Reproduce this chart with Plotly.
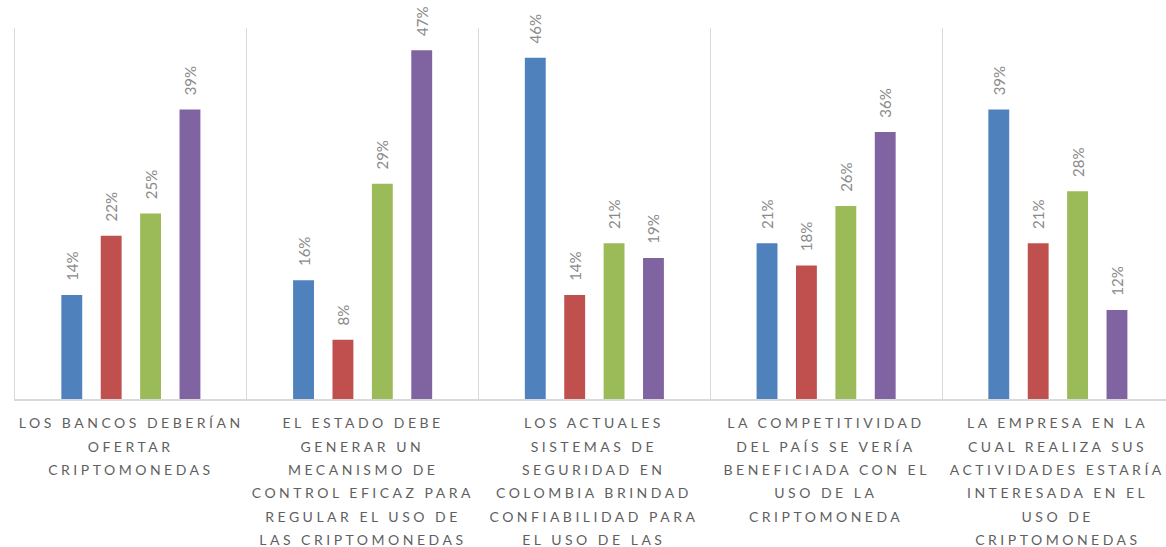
import plotly.graph_objects as go

# Statements (x categories); <br> marks the line breaks of each label
categories = [
    "LOS BANCOS DEBERÍAN<br>OFERTAR<br>CRIPTOMONEDAS",
    "EL ESTADO DEBE<br>GENERAR UN<br>MECANISMO DE<br>CONTROL EFICAZ PARA<br>REGULAR EL USO DE<br>LAS CRIPTOMONEDAS",
    "LOS ACTUALES<br>SISTEMAS DE<br>SEGURIDAD EN<br>COLOMBIA BRINDAD<br>CONFIABILIDAD PARA<br>EL USO DE LAS",
    "LA COMPETITIVIDAD<br>DEL PAÍS SE VERÍA<br>BENEFICIADA CON EL<br>USO DE LA<br>CRIPTOMONEDA",
    "LA EMPRESA EN LA<br>CUAL REALIZA SUS<br>ACTIVIDADES ESTARÍA<br>INTERESADA EN EL<br>USO DE<br>CRIPTOMONEDAS",
]

# Percentages per series
series_names = ["Serie 1", "Serie 2", "Serie 3", "Serie 4"]
series_1 = [14, 16, 46, 21, 39]
series_2 = [22, 8, 14, 18, 21]
series_3 = [25, 29, 21, 26, 28]
series_4 = [39, 47, 19, 36, 12]
series_values = [series_1, series_2, series_3, series_4]
series_colors = ["#4F81BD", "#C0504D", "#9BBB59", "#8064A2"]

FONT = "Lato, 'Open Sans', sans-serif"
W, H = 1166, 547
M_L, M_R, M_T, M_B = 15, 0, 28, 148
CAT_PX = 231.75  # width of one category band in pixels

fig = go.Figure()
for name, vals, color in zip(series_names, series_values, series_colors):
    fig.add_trace(go.Bar(
        name=name,
        x=categories,
        y=vals,
        marker=dict(color=color, line=dict(width=0)),
        texttemplate="\u2003%{y}%",
        textposition="outside",
        textangle=-90,
        textfont=dict(family=FONT, size=15, color="#8a8a8a"),
        cliponaxis=False,
        constraintext="none",
        hoverinfo="skip",
    ))

# Multi-line category labels, one annotation per line
LINE_H = 23.4
FIRST = 23.7
for cat in categories:
    for i, line in enumerate(cat.split("<br>")):
        fig.add_annotation(
            x=cat, y=0, xref="x", yref="y",
            text=line, showarrow=False,
            xanchor="center", yanchor="middle",
            yshift=-(FIRST + LINE_H * i),
            font=dict(family=FONT, size=14, color="#5f5f5f"),
        )

plot_w = W - M_L - M_R
fig.update_layout(
    width=W, height=H,
    margin=dict(l=M_L, r=M_R, t=M_T, b=M_B, pad=0),
    paper_bgcolor="white", plot_bgcolor="white",
    barmode="group", bargap=0.32, bargroupgap=0.47,
    showlegend=False,
    xaxis=dict(
        type="category",
        range=[-0.5, -0.5 + plot_w / CAT_PX],
        tickson="boundaries",
        showgrid=True, gridcolor="#d9d9d9", gridwidth=1,
        showline=True, linecolor="#d9d9d9", linewidth=1.5,
        showticklabels=False, ticks="",
        fixedrange=True,
    ),
    yaxis=dict(
        range=[0, 50],
        showgrid=False, zeroline=False,
        showline=True, linecolor="#d9d9d9", linewidth=1,
        showticklabels=False, ticks="",
        fixedrange=True,
    ),
)

# Wide tracking on the category labels
css = ("var s=document.createElement('style');"
       "s.innerHTML='.annotation-text{letter-spacing:3.5px}';"
       "document.head.appendChild(s);")
fig.write_html("out.html", post_script=css, config={"displayModeBar": False})
